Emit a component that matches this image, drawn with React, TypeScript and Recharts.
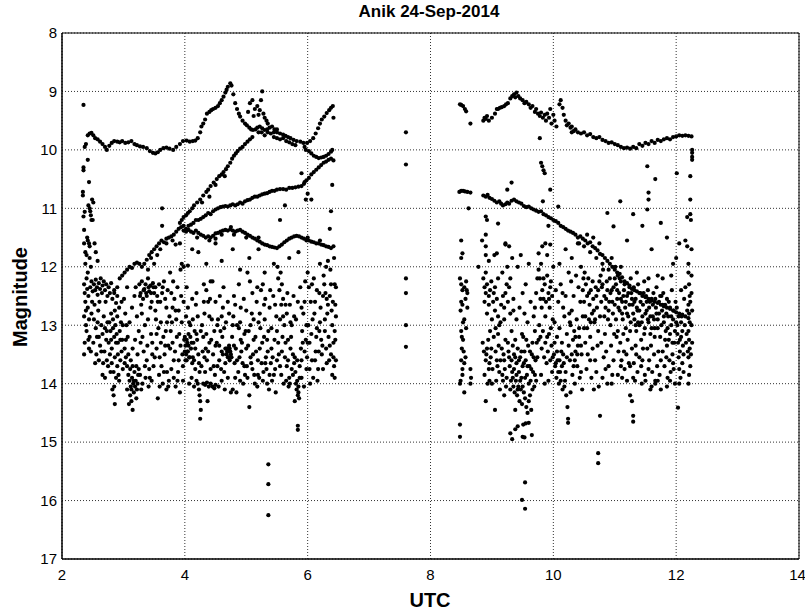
import { ScatterChart, Scatter, XAxis, YAxis, CartesianGrid, ReferenceLine } from 'recharts';

type Pt = [number, number];

const xTicks = [2, 4, 6, 8, 10, 12, 14];
const yTicks = [8, 9, 10, 11, 12, 13, 14, 15, 16, 17];

// [UTC hour, magnitude]
const leftUpperTrack: Pt[] = [
  [2.37,9.95],[2.39,9.9],[2.42,9.75],[2.45,9.72],[2.48,9.71],[2.51,9.75],[2.54,9.8],[2.58,9.82],[2.62,9.86],[2.66,9.9],
  [2.7,9.95],[2.73,10.0],[2.77,9.93],[2.81,9.88],[2.85,9.85],[2.9,9.86],[2.94,9.87],[2.98,9.85],[3.03,9.88],[3.08,9.87],
  [3.13,9.85],[3.18,9.9],[3.22,9.92],[3.27,9.94],[3.32,9.95],[3.38,9.97],[3.43,10.02],[3.48,10.05],[3.52,10.06],[3.56,10.04],
  [3.6,10.0],[3.65,9.97],[3.7,9.96],[3.75,9.98],[3.81,10.0],[3.86,9.95],[3.92,9.9],[3.97,9.85],[4.03,9.84],[4.08,9.86],
  [4.13,9.85],[4.17,9.84],[4.21,9.8],[4.25,9.7],[4.27,9.6],[4.3,9.55],[4.33,9.48],[4.36,9.38],[4.4,9.35],[4.43,9.32],
  [4.46,9.3],[4.5,9.28],[4.54,9.25],[4.57,9.2],[4.6,9.15],[4.63,9.09],[4.66,9.02],[4.68,8.97],[4.7,8.92],[4.74,8.86],
  [4.76,8.9],[4.79,9.05],[4.82,9.2],[4.85,9.3],[4.88,9.38],[4.9,9.43],[4.94,9.5],[4.98,9.55],[5.01,9.58],[5.05,9.62],
  [5.08,9.65],[5.11,9.66],[5.15,9.65],[5.18,9.62],[5.22,9.6],[5.26,9.63],[5.3,9.66],[5.34,9.65],[5.38,9.62],[5.42,9.6],
  [5.46,9.65],[5.5,9.7],[5.55,9.72],[5.6,9.74],[5.64,9.76],[5.68,9.78],[5.72,9.8],[5.77,9.83],[5.82,9.85],[5.88,9.86],
  [5.93,9.88],[5.99,9.88],[6.04,9.85],[6.09,9.8],[6.13,9.72],[6.17,9.63],[6.2,9.55],[6.23,9.48],[6.27,9.43],[6.31,9.37],
  [6.35,9.32],[6.38,9.28],[6.41,9.25],[6.42,9.45],
  [5.03,9.35],[5.06,9.2],[5.1,9.15],[5.14,9.3],[5.18,9.25],[5.2,9.4],[5.22,9.32],[5.26,9.0],[5.28,9.38],[5.3,9.45],
  [5.33,9.5],[5.24,9.15],[5.12,9.42],[5.35,9.55],
  [5.2,9.7],[5.3,9.75],[5.4,9.72],[5.45,9.78],[5.5,9.8],[5.55,9.82],[5.6,9.8],[5.65,9.85],[5.7,9.87],[5.75,9.9],
  [5.8,9.92],[5.5,9.65],[5.45,9.7],[5.35,9.7],[5.25,9.7],
  [6.02,10.02],[6.06,10.06],[6.1,10.1],[6.14,10.12],[6.18,10.14],[6.22,10.13],[6.26,10.12],[6.3,10.1],[6.34,10.07],
  [6.38,10.03],[6.4,10.0],[5.95,9.95],[5.97,10.0],
];

const leftRisingTrack: Pt[] = [
  [3.92,11.25],[3.95,11.2],[3.98,11.15],[4.02,11.12],[4.05,11.08],[4.08,11.05],[4.12,11.0],[4.15,10.95],[4.2,10.9],[4.25,10.85],
  [4.3,10.78],[4.35,10.72],[4.38,10.68],[4.42,10.62],[4.47,10.56],[4.52,10.5],[4.56,10.45],[4.6,10.42],[4.63,10.38],[4.67,10.33],
  [4.7,10.28],[4.74,10.22],[4.77,10.15],[4.8,10.1],[4.83,10.06],[4.86,10.02],[4.9,9.98],[4.94,9.95],[4.98,9.9],[5.02,9.86],
  [5.06,9.82],[5.1,9.78],[4.4,10.8],[4.5,10.6],[4.65,10.45],[4.28,10.9],
];

const leftMiddleTrack: Pt[] = [
  [2.85,12.45],[2.9,12.35],[2.94,12.2],[2.98,12.15],[3.02,12.1],[3.06,12.05],[3.1,12.0],[3.14,12.02],[3.18,11.95],[3.22,11.93],
  [3.26,11.95],[3.3,12.0],[3.34,11.95],[3.38,11.88],[3.42,11.8],[3.46,11.75],[3.5,11.7],[3.54,11.65],[3.58,11.6],[3.62,11.55],
  [3.66,11.58],[3.7,11.52],[3.74,11.5],[3.78,11.48],[3.82,11.45],[3.86,11.4],[3.9,11.35],[3.94,11.32],[3.98,11.3],[4.02,11.35],
  [4.06,11.3],[4.1,11.28],[4.14,11.25],[4.18,11.2],[4.22,11.2],[4.26,11.18],[4.3,11.15],[4.34,11.12],[4.38,11.08],[4.42,11.1],
  [4.46,11.05],[4.5,11.02],[4.54,11.0],[4.58,10.98],[4.62,10.97],[4.66,10.96],[4.7,10.97],[4.74,10.95],[4.78,10.93],[4.82,10.95],
  [4.86,10.93],[4.9,10.9],[4.94,10.92],[4.98,10.88],[5.02,10.86],[5.06,10.85],[5.1,10.82],[5.14,10.8],[5.18,10.8],[5.22,10.78],
  [5.26,10.76],[5.3,10.75],[5.34,10.74],[5.38,10.72],[5.42,10.7],[5.46,10.7],[5.5,10.68],[5.55,10.67],[5.6,10.67],[5.65,10.68],
  [5.7,10.65],[5.75,10.65],[5.8,10.64],[5.85,10.63],[5.9,10.62],[5.94,10.58],[5.98,10.52],[6.02,10.48],[6.06,10.42],[6.1,10.38],
  [6.14,10.34],[6.18,10.3],[6.22,10.26],[6.26,10.22],[6.3,10.2],[6.34,10.17],[6.38,10.15],[6.42,10.18],
  [3.6,11.7],[3.55,11.8],[3.7,11.6],[3.8,11.55],[3.92,11.6],[3.85,11.62],[3.45,11.85],[3.5,11.95],[3.4,12.05],
];

const leftLowerTrack: Pt[] = [
  [3.98,11.38],[4.02,11.4],[4.06,11.37],[4.1,11.4],[4.14,11.42],[4.18,11.38],[4.22,11.42],[4.26,11.45],[4.3,11.47],[4.34,11.5],
  [4.38,11.48],[4.42,11.5],[4.46,11.47],[4.5,11.43],[4.54,11.42],[4.58,11.4],[4.62,11.38],[4.66,11.37],[4.7,11.38],[4.74,11.36],
  [4.78,11.38],[4.82,11.4],[4.86,11.38],[4.9,11.37],[4.94,11.4],[4.98,11.42],[5.02,11.45],[5.06,11.47],[5.1,11.5],[5.14,11.52],
  [5.18,11.55],[5.22,11.57],[5.26,11.6],[5.3,11.62],[5.34,11.63],[5.38,11.65],[5.42,11.66],[5.46,11.67],[5.5,11.68],[5.54,11.65],
  [5.58,11.62],[5.62,11.58],[5.66,11.55],[5.7,11.52],[5.74,11.5],[5.78,11.48],[5.82,11.47],[5.86,11.48],[5.9,11.5],[5.94,11.52],
  [5.98,11.55],[6.02,11.55],[6.06,11.57],[6.1,11.58],[6.14,11.6],[6.18,11.6],[6.22,11.62],[6.26,11.63],[6.3,11.65],[6.34,11.66],
  [6.38,11.68],[6.42,11.65],[4.4,11.55],[4.6,11.45],[4.8,11.45],[5.0,11.5],[5.2,11.5],[6.0,11.5],[6.2,11.55],[4.2,11.5],
  [4.5,11.52],[4.75,11.32],
];

const leftEarlyColumn: Pt[] = [
  [2.35,9.23],[2.35,10.3],[2.35,10.35],[2.34,10.72],[2.34,10.78],[2.42,10.17],[2.44,10.55],[2.35,11.14],[2.37,11.06],[2.43,10.95],
  [2.45,11.0],[2.46,11.05],[2.47,11.12],[2.48,11.2],[2.36,11.37],[2.42,11.55],[2.44,11.6],[2.41,11.5],[2.45,11.65],[2.38,11.75],
  [2.4,11.8],[2.36,11.6],[2.5,11.2],[2.53,11.6],[2.55,11.75],[2.58,11.9],[2.51,10.9],[2.49,10.85],
];

const leftCloud: Pt[] = [
  [2.36,12.3],[2.37,12.45],[2.38,12.6],[2.36,12.85],[2.39,13.0],[2.37,13.3],[2.36,13.5],[2.4,12.2],[2.41,12.38],[2.42,12.7],
  [2.4,13.1],[2.43,12.5],[2.44,12.9],[2.45,13.2],[2.46,12.35],[2.47,12.0],[2.48,12.25],[2.49,12.6],[2.5,12.42],[2.45,11.85],
  [2.42,12.1],[2.38,11.95],[2.44,13.4],[2.48,12.8],
  [2.52,12.3],[2.54,12.4],[2.55,12.22],[2.57,12.35],[2.58,12.48],[2.6,12.28],[2.62,12.38],[2.63,12.2],[2.65,12.45],[2.66,12.32],
  [2.68,12.25],[2.7,12.4],[2.72,12.3],[2.74,12.5],[2.52,12.9],[2.55,13.05],[2.58,12.95],[2.6,13.2],[2.62,13.35],[2.56,13.5],
  [2.6,13.6],[2.64,13.0],[2.66,13.15],[2.68,12.85],[2.7,13.05],[2.72,13.25],[2.74,12.95],[2.53,12.65],[2.59,12.75],[2.69,13.45],
  [2.73,13.6],[2.75,13.7],[2.7,13.9],[2.66,13.85],
  [2.76,12.35],[2.78,12.45],[2.8,12.28],[2.82,12.55],[2.85,12.4],[2.88,12.62],[2.9,12.5],[2.93,12.7],[2.77,12.95],[2.79,13.1],
  [2.8,13.25],[2.83,13.05],[2.85,13.2],[2.87,13.0],[2.89,13.15],[2.91,13.3],[2.94,13.1],[2.96,12.95],[2.98,13.25],[2.78,13.5],
  [2.81,13.65],[2.84,13.8],[2.86,13.55],[2.88,13.9],[2.9,13.7],[2.92,13.85],[2.95,13.6],[2.97,13.45],[2.99,13.75],[2.82,14.1],
  [2.84,14.2],[2.86,14.35],[2.85,14.05],[2.9,12.85],[2.8,12.8],
  [3.01,12.55],[3.03,12.8],[3.05,13.0],[3.07,13.2],[3.02,13.4],[3.04,13.55],[3.06,13.7],[3.08,13.85],[3.1,13.95],[3.12,14.05],
  [3.14,13.9],[3.16,14.0],[3.18,13.8],[3.2,13.95],[3.22,14.1],[3.24,13.85],[3.11,14.2],[3.13,14.3],[3.15,14.45],[3.09,14.35],
  [3.17,14.15],[3.21,14.25],[3.12,13.6],[3.15,13.4],[3.19,13.25],[3.23,13.5],[3.1,12.95],[3.14,12.7],[3.18,12.5],[3.22,12.85],
  [3.25,13.1],[3.06,12.35],[3.2,12.35],
  [3.26,12.3],[3.28,12.45],[3.3,12.25],[3.32,12.55],[3.34,12.38],[3.36,12.3],[3.38,12.5],[3.4,12.2],[3.42,12.42],[3.44,12.32],
  [3.46,12.6],[3.48,12.28],[3.5,12.45],[3.3,12.8],[3.35,13.0],[3.4,12.9],[3.45,13.15],[3.28,13.3],[3.33,13.45],[3.38,13.6],
  [3.42,13.75],[3.47,13.5],[3.27,13.85],[3.31,14.0],[3.36,13.9],[3.41,14.05],[3.46,13.95],[3.49,13.7],[3.29,12.65],[3.44,12.7],
  [3.52,12.35],[3.55,12.5],[3.58,12.3],[3.6,12.6],[3.63,12.45],[3.66,12.25],[3.68,12.55],[3.7,12.7],[3.72,12.4],[3.53,12.9],
  [3.57,13.05],[3.61,12.95],[3.65,13.2],[3.69,13.1],[3.73,13.35],[3.54,13.4],[3.59,13.55],[3.62,13.7],[3.67,13.5],[3.71,13.8],
  [3.56,14.25],[3.64,14.0],[3.7,14.1],[3.74,13.95],[3.58,13.85],[3.52,12.75],[3.75,12.85],
  [3.76,12.1],[3.78,12.45],[3.8,12.7],[3.83,12.55],[3.86,12.9],[3.88,12.35],[3.9,12.75],[3.93,12.05],[3.95,12.95],[3.98,12.6],
  [3.77,13.1],[3.8,13.3],[3.84,13.45],[3.87,13.2],[3.9,13.6],[3.93,13.35],[3.96,13.5],[3.99,13.25],[3.78,13.75],[3.82,13.9],
  [3.85,14.05],[3.89,13.8],[3.92,14.15],[3.97,13.95],[3.81,12.25],[3.95,11.95],
  [4.0,13.2],[4.01,13.35],[4.02,13.5],[4.03,13.6],[4.04,13.3],[4.05,13.45],[4.06,13.15],[4.08,13.55],[4.1,13.4],[4.12,13.65],
  [4.14,13.3],[4.02,12.85],[4.05,12.7],[4.09,13.0],[4.13,12.9],[4.16,13.1],[4.18,12.65],[4.2,13.25],[4.22,13.5],[4.24,13.8],
  [4.17,13.75],[4.11,13.9],[4.07,14.0],[4.15,14.05],[4.21,14.0],[4.23,14.1],[4.24,14.2],[4.25,14.3],[4.26,14.45],[4.25,14.6],
  [4.19,13.95],[4.03,12.35],
  [4.28,13.0],[4.3,13.2],[4.32,12.8],[4.34,13.4],[4.36,13.6],[4.38,12.6],[4.4,13.3],[4.42,13.75],[4.44,12.9],[4.46,13.5],
  [4.48,13.1],[4.3,14.0],[4.33,14.02],[4.36,13.98],[4.39,14.05],[4.42,14.0],[4.45,14.05],[4.48,14.08],[4.5,14.02],[4.35,12.4],
  [4.45,12.25],[4.27,13.7],[4.32,13.55],[4.41,12.55],[4.49,13.85],[4.37,14.3],
  [4.52,13.3],[4.54,12.9],[4.56,13.6],[4.58,13.1],[4.6,13.45],[4.62,12.7],[4.64,13.8],[4.66,13.4],[4.68,13.5],[4.69,13.45],
  [4.7,13.4],[4.71,13.55],[4.72,13.35],[4.73,13.6],[4.74,13.45],[4.55,14.05],[4.6,13.95],[4.65,14.1],[4.7,13.9],[4.75,14.15],
  [4.57,12.5],[4.63,12.35],[4.67,12.95],[4.72,12.8],[4.53,13.7],[4.61,13.2],
  [4.77,13.2],[4.79,12.85],[4.81,13.65],[4.83,13.4],[4.85,13.0],[4.87,13.8],[4.89,13.55],[4.91,12.7],[4.93,13.3],[4.95,14.0],
  [4.97,13.7],[4.99,13.1],[4.78,14.1],[4.84,14.15],[4.9,13.95],[4.96,12.55],[4.8,12.5],[4.88,12.3],[4.92,13.45],[4.98,13.85],
  [4.76,13.55],
  [5.01,13.7],[5.03,13.35],[5.05,14.4],[5.05,14.2],[5.07,13.0],[5.09,12.8],[5.11,13.5],[5.13,13.85],[5.15,13.2],[5.17,12.6],
  [5.19,13.6],[5.21,13.9],[5.23,13.05],[5.24,12.4],[5.02,12.1],[5.06,12.25],[5.1,12.45],[5.14,14.0],[5.18,14.05],[5.22,13.4],
  [5.08,13.65],[5.2,12.95],
  [5.26,13.3],[5.28,13.8],[5.3,12.9],[5.32,13.55],[5.34,14.0],[5.35,13.45],[5.36,13.1],[5.38,12.7],[5.4,13.65],[5.42,13.95],
  [5.44,12.5],[5.46,13.25],[5.48,14.15],[5.5,13.6],[5.27,12.3],[5.31,12.55],[5.37,14.1],[5.41,13.4],[5.45,13.85],[5.49,12.85],
  [5.33,13.75],
  [5.51,12.0],[5.52,12.2],[5.54,12.4],[5.56,12.1],[5.58,12.3],[5.6,12.55],[5.62,13.0],[5.64,13.3],[5.66,12.8],[5.68,13.6],
  [5.7,13.9],[5.72,13.4],[5.74,13.75],[5.53,13.5],[5.57,13.85],[5.61,14.0],[5.65,13.95],[5.69,14.05],[5.73,13.2],[5.55,12.9],
  [5.59,13.2],[5.67,12.45],[5.71,12.65],
  [5.76,13.5],[5.78,13.65],[5.8,13.8],[5.82,14.1],[5.84,14.2],[5.86,14.25],[5.85,14.05],[5.83,13.95],[5.87,13.7],[5.89,13.4],
  [5.91,13.1],[5.93,12.8],[5.95,12.6],[5.97,13.25],[5.99,13.55],[5.79,14.3],[5.81,12.9],[5.9,13.9],[5.94,14.05],[5.98,13.75],
  [5.77,12.5],[5.88,12.35],
  [6.01,13.0],[6.03,13.3],[6.05,12.6],[6.07,13.6],[6.09,13.9],[6.11,12.8],[6.13,13.45],[6.15,12.4],[6.17,13.75],[6.19,13.1],
  [6.21,12.7],[6.23,13.5],[6.25,12.5],[6.04,14.0],[6.1,12.2],[6.14,13.2],[6.2,12.95],[6.24,13.35],[6.02,12.35],[6.16,13.95],
  [6.27,12.3],[6.29,12.45],[6.3,12.0],[6.32,12.8],[6.34,13.2],[6.36,12.5],[6.38,13.5],[6.4,13.0],[6.41,12.6],[6.42,13.3],
  [6.43,13.7],[6.44,12.3],[6.45,13.25],[6.46,12.85],[6.44,13.9],[6.4,13.85],[6.35,13.6],[6.3,13.4],[6.28,12.9],[6.33,11.9],
  [6.37,12.05],[6.43,11.85],[6.46,12.35],
  [3.98,12.0],[4.05,11.98],[4.22,11.75],[4.35,11.95],[4.6,11.9],[4.78,11.7],[4.9,12.05],[5.05,11.85],[5.2,11.7],[5.3,12.1],
  [5.45,11.95],[5.7,11.85],[5.85,11.75],[6.0,12.1],[6.2,11.95],[3.63,11.0],[3.63,11.3],[4.5,11.6],[4.12,11.7],[5.55,11.2],
  [5.63,10.95],[5.9,10.4],[5.95,10.55],[6.0,10.75],[5.97,10.85],[6.06,10.85],[6.36,11.35],[6.4,10.6],[6.38,11.05],
];

const leftCloudExtra: Pt[] = [
  [2.39,12.75],[2.43,13.25],[2.47,13.45],[2.51,13.3],[2.54,13.65],[2.57,13.2],[2.61,12.6],[2.64,13.45],[2.67,13.65],[2.71,12.6],
  [2.73,13.1],[2.76,13.3],[2.79,13.8],[2.81,13.4],[2.83,12.9],[2.86,12.75],[2.88,13.3],[2.91,13.5],[2.93,13.95],[2.95,13.25],
  [2.97,12.6],[2.99,13.0],[3.02,13.65],[3.04,13.25],[3.06,14.1],[3.08,13.5],[3.11,13.75],[3.13,14.1],[3.15,13.7],[3.17,13.95],
  [3.19,14.05],[3.21,13.7],[3.23,14.0],[3.25,13.75],[3.27,12.5],[3.29,14.1],[3.31,13.2],[3.33,12.4],[3.35,13.7],[3.37,12.45],
  [3.39,13.35],[3.41,12.35],[3.43,13.9],[3.45,12.45],[3.47,13.3],[3.49,12.35],[3.51,13.55],[3.54,13.15],[3.56,12.6],[3.59,14.05],
  [3.61,13.3],[3.64,12.35],[3.66,13.8],[3.68,13.35],[3.71,12.95],[3.73,14.05],[3.76,13.4],[3.79,12.95],[3.82,13.6],[3.85,12.75],
  [3.88,13.95],[3.91,13.15],[3.94,12.5],[3.97,13.7],[4.0,13.45],[4.01,13.6],[4.03,13.25],[4.04,13.45],[4.06,13.35],[4.07,13.55],
  [4.09,13.2],[4.11,13.3],[4.13,13.55],[4.15,13.6],[4.17,13.4],[4.19,13.15],[4.21,12.85],[4.23,13.65],[4.26,13.1],[4.29,13.45],
  [4.31,12.6],[4.33,13.8],[4.35,13.15],[4.38,13.45],[4.4,12.85],[4.43,13.25],[4.47,13.7],[4.5,13.35],[4.53,13.0],[4.56,13.35],
  [4.59,13.75],[4.62,13.5],[4.64,13.05],[4.66,13.65],[4.68,13.4],[4.7,13.55],[4.71,13.45],[4.73,13.4],[4.75,13.5],[4.78,13.0],
  [4.8,13.35],[4.82,13.9],[4.85,13.6],[4.88,13.05],[4.91,13.25],[4.94,13.65],[4.97,13.15],[5.0,13.4],[5.02,13.9],[5.04,13.1],
  [5.07,13.55],[5.1,13.75],[5.12,13.25],[5.16,13.45],[5.19,13.85],[5.22,12.8],[5.25,13.65],[5.27,13.95],[5.29,13.2],[5.31,13.65],
  [5.34,13.25],[5.38,13.85],[5.41,13.05],[5.43,13.55],[5.47,13.75],[5.5,13.1],[5.52,13.3],[5.55,13.7],[5.58,13.45],[5.6,12.85],
  [5.63,13.55],[5.66,13.7],[5.68,13.25],[5.71,14.0],[5.74,13.0],[5.76,13.85],[5.79,13.55],[5.81,14.0],[5.83,13.6],[5.85,14.15],
  [5.87,13.9],[5.9,13.6],[5.92,13.3],[5.95,13.45],[5.98,13.0],[6.0,13.3],[6.03,13.75],[6.06,13.15],[6.08,12.9],[6.12,13.6],
  [6.15,13.05],[6.18,13.45],[6.22,13.25],[6.25,13.75],[6.28,13.1],[6.31,13.65],[6.33,12.65],[6.36,13.35],[6.39,12.75],[6.42,13.55],
  [6.44,13.1],[6.46,13.6],[6.45,12.65],[6.38,12.3],[6.31,12.55],[6.26,12.15],[6.19,12.45],[6.12,12.6],[6.07,12.3],[5.96,12.25],
  [5.9,12.7],[5.84,12.6],[5.78,12.85],[5.72,12.95],[5.64,12.65],[5.57,12.65],[5.47,12.65],[5.39,12.4],[5.29,12.65],[5.18,12.35],
  [5.12,12.9],[5.0,12.75],[4.9,12.95],[4.82,12.65],[4.7,12.6],[4.6,12.85],[4.5,12.6],[4.42,12.25],[4.31,12.3],[4.19,12.45],
  [4.12,12.55],[4.07,12.95],
];

const gapColumn: Pt[] = [[7.6,9.7],[7.6,10.25],[7.6,12.2],[7.6,12.45],[7.6,13.0],[7.6,13.37]];

const rightUpperTrack: Pt[] = [
  [8.48,9.22],[8.5,9.23],[8.53,9.25],[8.56,9.3],[8.58,9.34],[8.65,9.55],[8.86,9.5],[8.88,9.45],[8.9,9.47],[8.92,9.42],
  [8.95,9.5],[9.0,9.45],[9.05,9.38],[9.08,9.3],[9.1,9.3],[9.13,9.28],[9.16,9.27],[9.2,9.25],[9.23,9.22],[9.26,9.2],
  [9.3,9.12],[9.33,9.08],[9.36,9.05],[9.38,9.1],[9.4,9.02],[9.43,9.08],[9.46,9.12],[9.5,9.15],[9.53,9.2],[9.56,9.18],
  [9.6,9.22],[9.63,9.28],[9.66,9.25],[9.7,9.35],[9.72,9.3],[9.75,9.38],[9.78,9.42],[9.8,9.36],[9.83,9.45],[9.86,9.4],
  [9.88,9.5],[9.9,9.38],[9.93,9.45],[9.95,9.3],[9.97,9.55],[10.0,9.4],[10.02,9.5],[10.05,9.6],[10.1,9.22],[10.12,9.15],
  [10.15,9.28],[10.17,9.4],[10.2,9.5],[10.22,9.58],[10.25,9.55],[10.28,9.62],[10.3,9.6],[10.33,9.68],[10.36,9.65],[10.4,9.7],
  [10.45,9.72],[10.5,9.7],[10.55,9.75],[10.6,9.73],[10.65,9.78],[10.7,9.8],[10.75,9.78],[10.8,9.83],[10.85,9.85],[10.9,9.88],
  [10.95,9.87],[11.0,9.9],[11.05,9.92],[11.1,9.95],[11.15,9.97],[11.2,9.96],[11.25,9.98],[11.3,9.95],[11.35,9.97],[11.4,9.9],
  [11.45,9.93],[11.5,9.88],[11.55,9.9],[11.6,9.85],[11.65,9.88],[11.7,9.83],[11.75,9.85],[11.8,9.82],[11.85,9.8],[11.9,9.82],
  [11.95,9.78],[12.0,9.77],[12.05,9.75],[12.1,9.76],[12.15,9.75],[12.2,9.76],[12.25,9.77],[12.26,10.0],[12.26,10.05],[12.26,10.12],
  [12.26,10.17],[10.3,9.7],[9.78,9.8],
];

const rightMiddleTrack: Pt[] = [
  [8.47,10.72],[8.5,10.7],[8.53,10.7],[8.56,10.71],[8.6,10.72],[8.65,10.73],[8.86,10.78],[8.9,10.8],[8.93,10.77],[8.96,10.82],
  [9.0,10.84],[9.04,10.87],[9.08,10.9],[9.12,10.88],[9.15,10.92],[9.18,10.95],[9.22,10.93],[9.25,10.9],[9.28,10.92],[9.32,10.87],
  [9.36,10.85],[9.4,10.88],[9.44,10.9],[9.48,10.92],[9.52,10.96],[9.56,10.98],[9.6,10.97],[9.64,11.0],[9.68,11.02],[9.72,11.04],
  [9.76,11.06],[9.8,11.05],[9.84,11.1],[9.88,11.12],[9.92,11.15],[9.96,11.17],[10.0,11.2],[10.04,11.22],[10.08,11.25],[10.12,11.3],
  [10.16,11.32],[10.2,11.35],[10.24,11.38],[10.28,11.4],[10.32,11.42],[10.36,11.45],[10.4,11.5],[10.44,11.48],[10.48,11.52],[10.52,11.55],
  [10.56,11.6],[10.6,11.58],[10.64,11.65],[10.68,11.68],[10.72,11.72],[10.76,11.78],[10.8,11.8],[10.84,11.85],[10.88,11.9],[10.92,11.95],
  [10.96,12.0],[11.0,12.05],[11.04,12.1],[11.08,12.12],[11.12,12.18],[11.16,12.25],[11.2,12.28],[11.24,12.32],[11.28,12.38],[11.32,12.4],
  [11.36,12.42],[11.4,12.45],[11.45,12.5],[11.5,12.52],[11.55,12.55],[11.6,12.58],[11.65,12.6],[11.7,12.62],[11.75,12.65],[11.8,12.68],
  [11.85,12.7],[11.9,12.72],[11.95,12.75],[12.0,12.78],[12.05,12.8],[12.1,12.82],[12.15,12.85],[12.2,12.88],[10.4,11.6],[10.5,11.65],
  [10.6,11.75],[10.7,11.85],[10.8,11.95],[10.9,12.05],[10.65,11.5],[10.75,11.6],[10.55,11.45],[11.0,12.2],[11.1,12.0],[10.95,11.85],
];

const rightCloud: Pt[] = [
  [8.5,11.55],[8.52,11.77],[8.48,12.2],[8.5,12.3],[8.52,12.4],[8.55,12.35],[8.58,12.25],[8.6,12.45],[8.5,12.6],[8.52,12.65],
  [8.55,12.9],[8.5,13.1],[8.53,13.25],[8.51,13.4],[8.54,13.45],[8.5,13.6],[8.52,13.75],[8.49,13.95],[8.55,14.15],[8.48,14.0],
  [8.6,12.7],[8.58,13.05],[8.57,13.55],[8.65,13.75],[8.66,13.9],[8.65,14.0],[8.62,11.0],[8.5,11.85],[8.57,12.55],
  [8.86,12.2],[8.88,12.35],[8.9,12.45],[8.92,12.3],[8.95,12.5],[8.97,12.4],[8.99,12.25],[8.85,13.3],[8.87,13.45],[8.9,13.6],
  [8.92,13.4],[8.95,13.75],[8.98,13.55],[8.88,13.85],[8.93,14.0],[8.96,13.95],[8.9,14.3],[9.0,14.0],[8.78,12.0],[8.84,11.55],
  [8.9,11.65],[8.92,12.8],[8.97,13.1],[9.0,12.9],[9.05,14.45],[8.95,11.9],
  [9.02,12.6],[9.05,12.75],[9.08,12.55],[9.1,12.85],[9.12,13.0],[9.15,12.65],[9.18,12.5],[9.2,12.9],[9.22,12.45],[9.24,12.3],
  [9.03,13.2],[9.06,13.45],[9.09,13.7],[9.11,13.35],[9.14,13.6],[9.17,13.85],[9.19,13.5],[9.21,13.75],[9.23,14.05],[9.07,13.95],
  [9.13,14.1],[9.2,14.2],[9.1,12.2],[9.17,12.1],[9.25,12.0],[9.04,11.8],[9.22,11.6],
  [9.26,12.6],[9.28,12.35],[9.3,12.8],[9.32,13.1],[9.34,13.35],[9.36,13.5],[9.38,13.25],[9.4,13.65],[9.42,13.4],[9.44,13.8],
  [9.46,13.55],[9.48,13.9],[9.5,13.7],[9.27,13.45],[9.29,13.7],[9.31,13.95],[9.33,13.8],[9.35,14.05],[9.37,14.15],[9.39,13.95],
  [9.41,14.2],[9.43,14.05],[9.45,14.3],[9.47,14.1],[9.49,14.35],[9.35,12.55],[9.4,12.9],[9.45,12.7],[9.49,13.15],[9.3,12.2],
  [9.42,12.0],[9.47,11.8],[9.38,14.45],
  [9.51,13.2],[9.53,13.45],[9.55,13.6],[9.57,13.85],[9.59,13.35],[9.61,13.7],[9.63,13.95],[9.65,13.5],[9.67,13.8],[9.69,14.05],
  [9.71,13.6],[9.73,13.3],[9.52,14.15],[9.54,14.25],[9.56,14.4],[9.58,14.5],[9.6,14.3],[9.62,14.2],[9.64,14.45],[9.66,14.1],
  [9.53,12.8],[9.58,12.95],[9.63,12.6],[9.68,12.85],[9.72,12.45],[9.55,12.3],[9.7,13.1],[9.74,12.2],[9.6,11.95],
  [9.76,12.05],[9.78,12.2],[9.8,11.95],[9.82,12.4],[9.84,12.55],[9.86,12.3],[9.88,12.6],[9.9,12.15],[9.92,12.45],[9.94,12.7],
  [9.96,12.25],[9.98,12.5],[9.77,13.0],[9.79,13.2],[9.81,13.4],[9.83,13.1],[9.85,13.55],[9.87,13.3],[9.89,13.65],[9.91,13.45],
  [9.93,13.15],[9.95,13.6],[9.97,13.35],[9.99,12.9],[9.8,13.85],[9.86,14.0],[9.92,13.95],[9.98,13.8],[9.82,11.65],[9.9,11.8],
  [10.0,12.0],
  [10.01,13.5],[10.03,13.7],[10.05,13.9],[10.07,13.6],[10.09,14.0],[10.11,13.8],[10.13,13.45],[10.15,14.1],[10.17,13.65],[10.19,13.95],
  [10.21,14.2],[10.23,14.4],[10.24,14.6],[10.24,14.67],[10.02,12.95],[10.06,13.2],[10.1,13.05],[10.14,13.3],[10.18,12.85],[10.22,13.15],
  [10.04,12.4],[10.08,12.6],[10.12,12.3],[10.16,12.7],[10.2,12.5],[10.1,11.95],[10.2,11.7],[10.25,12.1],
  [10.26,12.8],[10.28,13.0],[10.3,12.75],[10.32,13.25],[10.34,13.1],[10.36,13.45],[10.38,12.9],[10.4,13.35],[10.42,13.2],[10.44,12.6],
  [10.46,13.5],[10.48,12.4],[10.5,13.05],[10.27,13.6],[10.31,13.85],[10.35,14.0],[10.39,13.7],[10.43,13.9],[10.47,14.1],[10.29,12.25],
  [10.33,12.5],[10.37,12.15],[10.41,12.35],[10.45,12.0],[10.49,12.2],[10.3,11.85],[10.42,11.6],[10.28,14.15],
  [10.51,12.1],[10.53,12.3],[10.55,12.5],[10.57,12.2],[10.59,12.65],[10.61,12.4],[10.63,12.8],[10.65,12.55],[10.67,12.95],[10.69,12.35],
  [10.71,12.7],[10.73,13.1],[10.52,13.3],[10.56,13.5],[10.6,13.2],[10.64,13.4],[10.68,13.6],[10.72,13.35],[10.54,13.75],[10.62,13.9],
  [10.7,13.8],[10.74,14.05],[10.66,14.1],[10.58,12.9],[10.75,12.25],[10.76,14.55],
  [10.77,12.15],[10.79,12.35],[10.81,12.05],[10.83,12.5],[10.85,12.7],[10.87,12.25],[10.89,12.9],[10.91,12.6],[10.93,13.0],[10.95,12.4],
  [10.97,12.8],[10.99,13.15],[10.78,13.3],[10.82,13.55],[10.86,13.45],[10.9,13.7],[10.94,13.35],[10.98,13.6],[10.8,13.9],[10.88,14.0],
  [10.96,13.85],[10.84,13.15],[10.92,12.2],
  [11.01,12.0],[11.02,12.3],[11.04,12.55],[11.05,12.15],[11.07,12.45],[11.08,12.75],[11.1,12.25],[11.12,12.6],[11.13,12.9],[11.15,12.4],
  [11.17,12.7],[11.18,13.05],[11.2,12.5],[11.22,12.85],[11.24,12.35],[11.03,13.2],[11.06,13.45],[11.09,13.3],[11.11,13.6],[11.14,13.15],
  [11.16,13.75],[11.19,13.5],[11.21,13.25],[11.23,13.65],[11.05,13.85],[11.12,13.9],[11.2,13.95],[11.25,13.1],[11.25,14.2],[11.28,14.3],
  [11.3,14.55],[11.3,14.65],
  [11.26,12.2],[11.27,12.45],[11.29,12.65],[11.31,12.35],[11.32,12.9],[11.34,12.55],[11.35,13.1],[11.37,12.75],[11.38,12.3],[11.4,13.0],
  [11.42,12.6],[11.43,13.25],[11.45,12.85],[11.47,12.45],[11.49,13.05],[11.28,13.4],[11.31,13.65],[11.34,13.35],[11.37,13.8],[11.4,13.55],
  [11.43,13.7],[11.46,13.4],[11.49,13.85],[11.33,13.95],[11.44,14.0],[11.36,12.1],[11.48,12.25],
  [11.51,12.5],[11.52,12.75],[11.54,12.4],[11.55,12.95],[11.57,12.6],[11.58,13.15],[11.6,12.55],[11.62,12.85],[11.63,12.45],[11.65,13.05],
  [11.67,12.7],[11.68,12.35],[11.7,12.9],[11.72,12.6],[11.74,13.2],[11.53,13.4],[11.56,13.6],[11.59,13.35],[11.61,13.8],[11.64,13.5],
  [11.66,13.95],[11.69,13.7],[11.71,13.45],[11.73,13.85],[11.58,14.1],[11.6,14.05],[11.66,14.0],[11.75,14.1],[11.55,12.2],[11.7,12.15],
  [11.76,12.5],[11.77,12.75],[11.79,12.45],[11.8,12.95],[11.82,12.65],[11.83,13.1],[11.85,12.55],[11.87,12.85],[11.88,13.25],[11.9,12.7],
  [11.92,13.0],[11.93,12.4],[11.95,12.9],[11.97,13.3],[11.99,12.6],[11.78,13.45],[11.81,13.7],[11.84,13.55],[11.86,13.9],[11.89,13.6],
  [11.91,13.8],[11.94,13.5],[11.96,13.75],[11.98,14.0],[11.85,14.05],[11.78,12.2],[11.92,12.15],[11.95,11.95],
  [12.01,12.7],[12.02,13.0],[12.03,13.3],[12.04,13.55],[12.05,13.75],[12.06,13.45],[12.07,13.9],[12.08,13.2],[12.09,12.85],[12.1,13.65],
  [12.11,13.35],[12.12,13.8],[12.0,11.85],[12.05,11.6],[12.08,12.4],[12.15,11.55],[12.18,11.65],[12.2,11.95],[12.2,12.1],[12.21,12.3],
  [12.22,12.5],[12.2,12.65],[12.21,12.8],[12.22,12.95],[12.2,13.1],[12.21,13.25],[12.22,13.4],[12.2,13.55],[12.23,13.7],[12.21,13.85],
  [12.2,14.0],[12.25,12.15],[12.25,12.45],[12.26,12.75],[12.25,13.0],[12.26,13.3],[12.25,11.7],[12.24,11.2],[12.23,11.1],[12.15,12.35],
  [12.13,12.55],[12.17,13.15],
  [9.32,10.56],[9.25,10.68],[9.82,10.28],[9.8,10.22],[9.84,10.35],[9.86,10.4],[9.95,10.68],[9.83,10.88],[10.08,10.97],[10.88,11.08],
  [10.98,11.31],[8.9,11.14],[8.92,11.2],[9.1,11.26],[9.22,11.62],[9.28,11.65],[9.33,11.85],[9.08,11.77],[8.9,11.45],[8.9,11.8],
  [9.76,11.77],[9.87,11.6],[9.95,11.62],[9.92,11.3],[11.53,10.28],[11.66,10.5],[11.55,10.73],[11.55,10.85],[11.53,11.02],[12.18,11.15],
  [12.01,10.4],[11.09,10.88],[12.23,10.45],[12.23,10.85],[11.3,11.1],[11.45,11.3],[11.2,11.55],[11.6,11.7],[11.85,11.5],[11.75,11.25],
];

const rightCloudExtra: Pt[] = [
  [8.49,12.75],[8.53,12.95],[8.51,13.2],[8.55,13.65],[8.52,13.85],[8.59,12.4],[8.88,12.6],[8.91,13.5],[8.94,13.25],[8.96,13.65],
  [8.99,13.4],[9.01,13.75],[9.03,12.45],[9.06,13.05],[9.08,13.6],[9.1,13.15],[9.12,13.8],[9.14,12.95],[9.16,13.4],[9.18,13.95],
  [9.2,13.6],[9.22,13.25],[9.24,13.9],[9.26,13.3],[9.28,13.55],[9.3,14.1],[9.32,13.6],[9.34,13.9],[9.36,13.75],[9.38,13.55],
  [9.4,13.85],[9.42,14.1],[9.44,13.6],[9.46,13.95],[9.48,13.45],[9.5,14.05],[9.52,13.65],[9.54,13.9],[9.56,13.25],[9.58,13.7],
  [9.6,14.0],[9.62,13.45],[9.64,13.75],[9.66,13.3],[9.68,13.55],[9.7,13.85],[9.72,13.95],[9.74,13.55],[9.76,13.25],[9.79,12.55],
  [9.81,12.7],[9.84,12.2],[9.87,12.85],[9.9,13.2],[9.93,12.55],[9.96,13.05],[9.99,13.55],[10.02,13.3],[10.04,13.65],[10.06,13.45],
  [10.08,13.8],[10.1,13.6],[10.12,13.95],[10.14,13.7],[10.16,13.5],[10.18,14.05],[10.2,13.8],[10.22,13.55],[10.25,13.35],[10.27,12.95],
  [10.3,13.5],[10.33,13.7],[10.36,13.2],[10.39,13.5],[10.42,13.05],[10.45,13.35],[10.48,12.85],[10.5,12.6],[10.52,12.85],[10.55,13.05],
  [10.58,12.45],[10.61,12.95],[10.64,12.25],[10.66,12.75],[10.68,12.9],[10.7,12.5],[10.73,12.4],[10.76,12.85],[10.78,12.6],[10.8,12.3],
  [10.83,12.85],[10.86,12.55],[10.88,12.4],[10.9,12.75],[10.93,12.45],[10.96,12.6],[10.98,12.35],[11.0,12.65],[11.02,12.9],[11.04,12.4],
  [11.06,12.7],[11.08,12.2],[11.1,12.55],[11.12,12.8],[11.14,12.5],[11.16,12.3],[11.18,12.6],[11.2,12.8],[11.22,12.45],[11.24,12.65],
  [11.26,12.95],[11.28,12.55],[11.3,12.8],[11.32,12.6],[11.34,13.0],[11.36,12.7],[11.38,12.95],[11.4,12.75],[11.42,12.45],[11.44,12.95],
  [11.46,12.65],[11.48,13.15],[11.5,12.8],[11.52,12.6],[11.54,12.9],[11.56,12.7],[11.58,12.85],[11.6,13.05],[11.62,12.65],[11.64,12.9],
  [11.66,12.55],[11.68,12.8],[11.7,13.05],[11.72,12.8],[11.74,12.5],[11.76,13.0],[11.78,12.65],[11.8,12.85],[11.82,13.25],[11.84,12.8],
  [11.86,13.05],[11.88,12.6],[11.9,13.15],[11.92,12.85],[11.94,13.3],[11.96,12.75],[11.98,13.1],[12.0,12.95],[12.02,13.15],[12.04,12.85],
  [12.06,13.25],[12.08,12.95],[12.1,13.1],[12.12,13.5],[12.14,13.0],[12.16,13.3],[12.18,12.75],[12.19,13.45],[12.23,12.6],[12.24,13.5],
  [11.05,13.1],[11.15,13.45],[11.25,13.7],[11.35,13.5],[11.45,13.6],[11.55,13.75],[11.65,13.2],[11.75,13.6],[11.85,13.35],[11.95,13.65],
  [12.05,14.0],[11.1,13.7],[11.3,13.9],[11.5,13.95],[11.7,13.95],[11.9,13.95],[10.6,13.6],[10.85,13.75],[10.95,14.0],[10.45,13.8],
  [10.35,13.6],[10.15,12.45],[9.95,12.35],[9.7,12.7],[9.5,12.45],[9.35,12.75],[9.2,12.7],[9.05,12.35],[8.95,12.65],[8.9,12.1],
];

const outliers: Pt[] = [
  [5.36,15.38],[5.36,15.72],[5.36,16.25],[5.84,14.72],[5.84,14.79],
  [9.54,15.69],[9.49,15.99],[9.54,16.14],[10.73,15.19],[10.73,15.36],[8.48,14.7],[8.48,14.91],
  [9.3,14.85],[9.33,14.95],[9.38,14.78],[9.42,14.73],[9.51,14.7],[9.55,14.68],[9.6,14.67],[9.65,14.88],[9.5,14.91],[9.53,14.92],
  [12.03,14.41],
];

const groups = [
  leftUpperTrack, leftRisingTrack, leftMiddleTrack, leftLowerTrack, leftEarlyColumn, leftCloud, leftCloudExtra,
  gapColumn, rightUpperTrack, rightMiddleTrack, rightCloud, rightCloudExtra, outliers,
];

const toRows = (pts: Pt[]) => pts.map(([utc, mag]) => ({ utc, mag }));

const FONT = '"Liberation Sans", Arial, Helvetica, sans-serif';

// eslint-disable-next-line @typescript-eslint/no-explicit-any
function Dot({ cx, cy }: any) {
  if (cx == null || cy == null) return null;
  return <circle cx={cx} cy={cy} r={2.1} fill="#000" />;
}

export default function App() {
  const tickStyle = { fontSize: 15, fill: '#000', fontFamily: FONT };
  return (
    <div style={{ position: 'absolute', left: 0, top: 0, width: 805, height: 611, background: '#fff' }}>
      <div
        style={{
          position: 'absolute', left: 279, top: 2, width: 300, textAlign: 'center',
          fontFamily: FONT, fontWeight: 'bold', fontSize: 17, lineHeight: '19px', color: '#000',
        }}
      >
        Anik 24-Sep-2014
      </div>
      <ScatterChart width={805} height={611} margin={{ top: 33, right: 6, bottom: 0, left: 0 }}>
        <CartesianGrid stroke="#333" strokeDasharray="1 2" />
        <XAxis
          type="number"
          dataKey="utc"
          domain={[2, 14]}
          ticks={xTicks}
          height={52}
          tickSize={0}
          tickMargin={10}
          tick={tickStyle}
          stroke="#000"
          axisLine={{ stroke: '#000', strokeWidth: 1.5 }}
          allowDataOverflow
          label={{
            content: () => (
              <text x={430} y={607} textAnchor="middle" fontFamily={FONT} fontWeight="bold" fontSize={20} fill="#000">UTC</text>
            ),
          }}
        />
        <YAxis
          type="number"
          dataKey="mag"
          domain={[8, 17]}
          ticks={yTicks}
          reversed
          width={62}
          tickSize={0}
          tickMargin={5}
          tick={tickStyle}
          stroke="#000"
          axisLine={{ stroke: '#000', strokeWidth: 1.5 }}
          allowDataOverflow
          label={{
            content: () => (
              <text x={27} y={297} transform="rotate(-90 27 297)" textAnchor="middle" fontFamily={FONT} fontWeight="bold" fontSize={20} fill="#000">Magnitude</text>
            ),
          }}
        />
        <ReferenceLine x={14} stroke="#000" />
        <ReferenceLine y={8} stroke="#000" />
        {groups.map((g, i) => (
          <Scatter key={i} data={toRows(g)} shape={<Dot />} isAnimationActive={false} />
        ))}
      </ScatterChart>
    </div>
  );
}
